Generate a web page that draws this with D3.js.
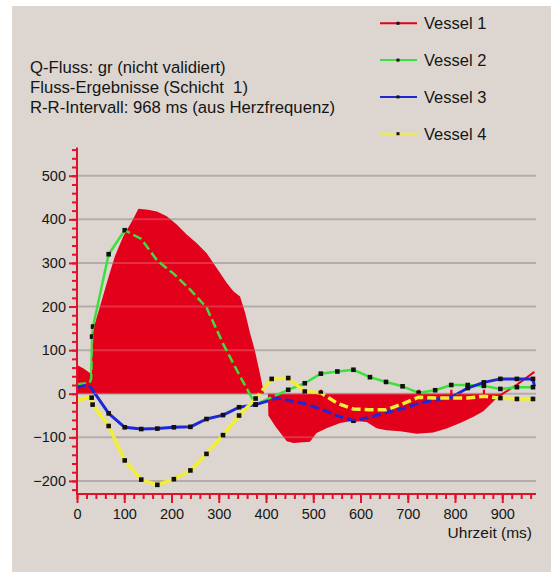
<!DOCTYPE html>
<html><head><meta charset="utf-8">
<script src="https://cdn.jsdelivr.net/npm/d3@7"></script>
<style>
html,body{margin:0;padding:0;background:#fff;}
svg{display:block;font-family:"Liberation Sans",Arial,sans-serif;}
</style></head>
<body>
<svg id="chart" width="551" height="572"></svg>
<script>
// ---------- DATA ----------
const seriesNames = ["Vessel 1", "Vessel 2", "Vessel 3", "Vessel 4"];
const infoLines = ["Q-Fluss: gr (nicht validiert)", "Fluss-Ergebnisse (Schicht  1)", "R-R-Intervall: 968 ms (aus Herzfrequenz)"];
const xTickValues = [0, 100, 200, 300, 400, 500, 600, 700, 800, 900];
const yTickValues = [-200, -100, 0, 100, 200, 300, 400, 500];
const xLabel = "Uhrzeit (ms)";

// Vessel 1 (filled area)
const v1Time = [0, 14, 28, 31, 33, 35, 50, 63, 80, 98, 116, 130, 150, 169, 190, 211, 232, 253, 274, 296, 317, 331, 345, 356, 366, 376, 387, 396, 404, 405, 420, 444, 458, 493, 507, 528, 557, 585, 613, 634, 655, 684, 719, 754, 782, 811, 839, 860, 878, 892, 900];
const v1Flow = [66, 58, 47, 40, 120, 150, 205, 254, 315, 361, 395, 424, 422, 418, 407, 388, 365, 346, 323, 288, 254, 235, 223, 185, 140, 101, 47, 0, 0, -50, -75, -109, -113, -110, -90, -79, -67, -62, -65, -79, -84, -86, -92, -89, -80, -67, -53, -40, -21, -6, 0];
// Vessel 1 tail (drawn as line)
const v1TailTime = [892, 930, 968];
const v1TailFlow = [-6, 20, 50];
// Vessel 1 visible markers (on the zero line)
const v1MarkTime = [516, 723, 792, 861];
const v1MarkFlow = [0, 0, 0, 0];

// Vessel 2
const v2Time = [0, 27, 30, 32, 34, 67, 101, 136, 170, 205, 240, 274, 309, 343, 378, 412, 447, 482, 516, 551, 585, 620, 654, 689, 723, 758, 792, 827, 861, 896, 931, 965];
const v2Flow = [22, 25, 35, 131, 154, 320, 375, 355, 305, 275, 238, 198, 115, 44, -25, -8, 9, 24, 46, 51, 55, 38, 27, 17, 2, 8, 20, 20, 18, 11, 15, 15];

// Vessel 3
const v3Time = [0, 24, 32, 67, 101, 136, 170, 205, 240, 274, 309, 343, 378, 412, 423, 447, 482, 516, 551, 585, 620, 654, 689, 723, 758, 792, 827, 861, 896, 931, 965, 968];
const v3Flow = [15, 21, 10, -45, -77, -81, -80, -77, -76, -58, -49, -31, -25, -14, -10, -15, -23, -35, -51, -62, -54, -43, -34, -22, -14, -8, 13, 26, 34, 34, 34, 17];

// Vessel 4
const v4Time = [0, 28, 31, 33, 67, 101, 136, 170, 205, 240, 274, 309, 343, 378, 412, 447, 482, 516, 551, 585, 620, 654, 689, 723, 758, 792, 827, 861, 896, 931, 965, 968];
const v4Flow = [-16, -7, -9, -25, -74, -153, -197, -209, -196, -176, -138, -95, -50, -11, 34, 36, 5, 2, -22, -35, -37, -37, -23, -8, -10, -10, -10, -6, -10, -12, -12, -18];

const colors = ["#e2001a", "#3ce03c", "#1e28d2", "#f2ee36"];
const widths = [2, 2.5, 3, 3.5];

// ---------- CHART ----------
const svg = d3.select("#chart");
const W = 551, H = 572;
const font = "Liberation Sans, Arial, sans-serif";
svg.append("rect").attr("width", W).attr("height", H).attr("fill", "#ffffff");
svg.append("rect").attr("x", 12).attr("y", 6).attr("width", W - 12).attr("height", H - 6).attr("fill", "#ddd6d0");

const x = d3.scaleLinear().domain([0, 968]).range([77, 534.4]);
const y = d3.scaleLinear().domain([-230, 565]).range([494, 147.4]);
const plotRight = 536;

// gridlines
svg.append("g").selectAll("line").data(yTickValues).join("line")
  .attr("x1", x(0)).attr("x2", plotRight)
  .attr("y1", d => y(d)).attr("y2", d => y(d))
  .attr("stroke", "#b4acaa").attr("stroke-width", 2);

// area
const pts = (t, v) => t.map((d, i) => ({t: d, v: v[i]}));
const v1 = pts(v1Time, v1Flow);
const areaGen = d3.area().x(d => x(d.t)).y0(y(0)).y1(d => y(d.v));
const areaD = areaGen(v1);

const defs = svg.append("defs");
defs.append("clipPath").attr("id", "inArea").append("path").attr("d", areaD);
const mask = defs.append("mask").attr("id", "outArea")
  .attr("maskUnits", "userSpaceOnUse").attr("x", 0).attr("y", 0).attr("width", W).attr("height", H);
mask.append("rect").attr("width", W).attr("height", H).attr("fill", "#fff");
mask.append("path").attr("d", areaD).attr("fill", "#000");

svg.append("path").attr("d", areaD).attr("fill", colors[0]);
// faint gridlines through the area
svg.append("g").attr("clip-path", "url(#inArea)").selectAll("line").data(yTickValues).join("line")
  .attr("x1", x(0)).attr("x2", plotRight)
  .attr("y1", d => y(d)).attr("y2", d => y(d))
  .attr("stroke", "#ffffff").attr("stroke-opacity", 0.18).attr("stroke-width", 2);

const lineGen = d3.line().x(d => x(d.t)).y(d => y(d.v));
svg.append("path").attr("d", lineGen(pts(v1TailTime, v1TailFlow)))
  .attr("fill", "none").attr("stroke", colors[0]).attr("stroke-width", 2);
svg.append("g").selectAll("rect").data(pts(v1MarkTime, v1MarkFlow)).join("rect")
  .attr("x", d => x(d.t) - 1).attr("y", d => y(d.v) - 4)
  .attr("width", 2.2).attr("height", 7).attr("fill", colors[0]);

const others = [pts(v2Time, v2Flow), pts(v3Time, v3Flow), pts(v4Time, v4Flow)];
others.forEach((s, i) => {
  const c = colors[i + 1], w = widths[i + 1];
  svg.append("path").attr("d", lineGen(s)).attr("fill", "none")
    .attr("stroke", c).attr("stroke-width", w).attr("stroke-linejoin", "round")
    .attr("mask", "url(#outArea)");
  svg.append("path").attr("d", lineGen(s)).attr("fill", "none")
    .attr("stroke", c).attr("stroke-width", w).attr("stroke-dasharray", "9,4")
    .attr("clip-path", "url(#inArea)");
});
// markers
const mk = svg.append("g").attr("mask", "url(#outArea)");
others.forEach(s => {
  mk.selectAll(null).data(s.filter(d => d.t > 28 && d.t < 966)).join("rect")
    .attr("x", d => x(d.t) - 2.3).attr("y", d => y(d.v) - 2.3)
    .attr("width", 4.6).attr("height", 4.6).attr("fill", "#111");
});

// axes
const axisColor = "#e0132c";
const yMinor = d3.range(-220, 565, 20);
const xMinor = d3.range(0, 969, 20);
const gy = svg.append("g").attr("transform", `translate(${x(0)},0)`);
gy.call(d3.axisLeft(y).tickValues(yMinor).tickSize(5).tickFormat(""));
gy.selectAll(".tick line").attr("stroke", axisColor).attr("stroke-width", 2);
gy.select(".domain").remove();
const gy2 = svg.append("g").attr("transform", `translate(${x(0)},0)`);
gy2.call(d3.axisLeft(y).tickValues(yTickValues).tickSize(8).tickPadding(3));
gy2.select(".domain").remove();
gy2.selectAll(".tick line").attr("stroke", axisColor).attr("stroke-width", 2);
gy2.selectAll("text").attr("font-size", 14.5).attr("fill", "#151515").attr("font-family", font);

const gx = svg.append("g").attr("transform", `translate(0,${y(-230)})`);
gx.call(d3.axisBottom(x).tickValues(xMinor).tickSize(5).tickFormat(""));
gx.select(".domain").remove();
gx.selectAll(".tick line").attr("stroke", axisColor).attr("stroke-width", 2);
const gx2 = svg.append("g").attr("transform", `translate(0,${y(-230)})`);
gx2.call(d3.axisBottom(x).tickValues(xTickValues).tickSize(9));
gx2.select(".domain").remove();
gx2.selectAll(".tick line").attr("stroke", axisColor).attr("stroke-width", 2);
gx2.selectAll("text").attr("y", 24.5).attr("dy", 0).attr("font-size", 14.5).attr("fill", "#151515")
  .attr("font-family", font);

svg.append("line").attr("x1", x(0)).attr("x2", x(0)).attr("y1", y(565)).attr("y2", y(-230))
  .attr("stroke", axisColor).attr("stroke-width", 2);
svg.append("line").attr("x1", x(0) - 1).attr("x2", plotRight).attr("y1", y(-230)).attr("y2", y(-230))
  .attr("stroke", axisColor).attr("stroke-width", 2);

svg.append("text").attr("x", 532).attr("y", 538).attr("text-anchor", "end")
  .attr("font-size", 15.5).attr("fill", "#151515").text(xLabel);

// info text
svg.append("g").selectAll("text").data(infoLines).join("text")
  .attr("x", 30).attr("y", (d, i) => 72.5 + i * 20)
  .attr("font-size", 16.7).attr("fill", "#151515").style("white-space", "pre").text(d => d);

// legend
const lg = svg.append("g").selectAll("g").data(seriesNames).join("g")
  .attr("transform", (d, i) => `translate(0,${23.3 + i * 36.8})`);
lg.append("line").attr("x1", 380).attr("x2", 417).attr("y1", 0).attr("y2", 0)
  .attr("stroke", (d, i) => colors[i]).attr("stroke-width", 2);
lg.append("rect").attr("x", 396.5).attr("y", -1.5).attr("width", 3).attr("height", 3).attr("fill", "#111");
lg.append("text").attr("x", 424).attr("y", 6).attr("font-size", 16.5).attr("fill", "#151515").text(d => d);
</script>
</body></html>
